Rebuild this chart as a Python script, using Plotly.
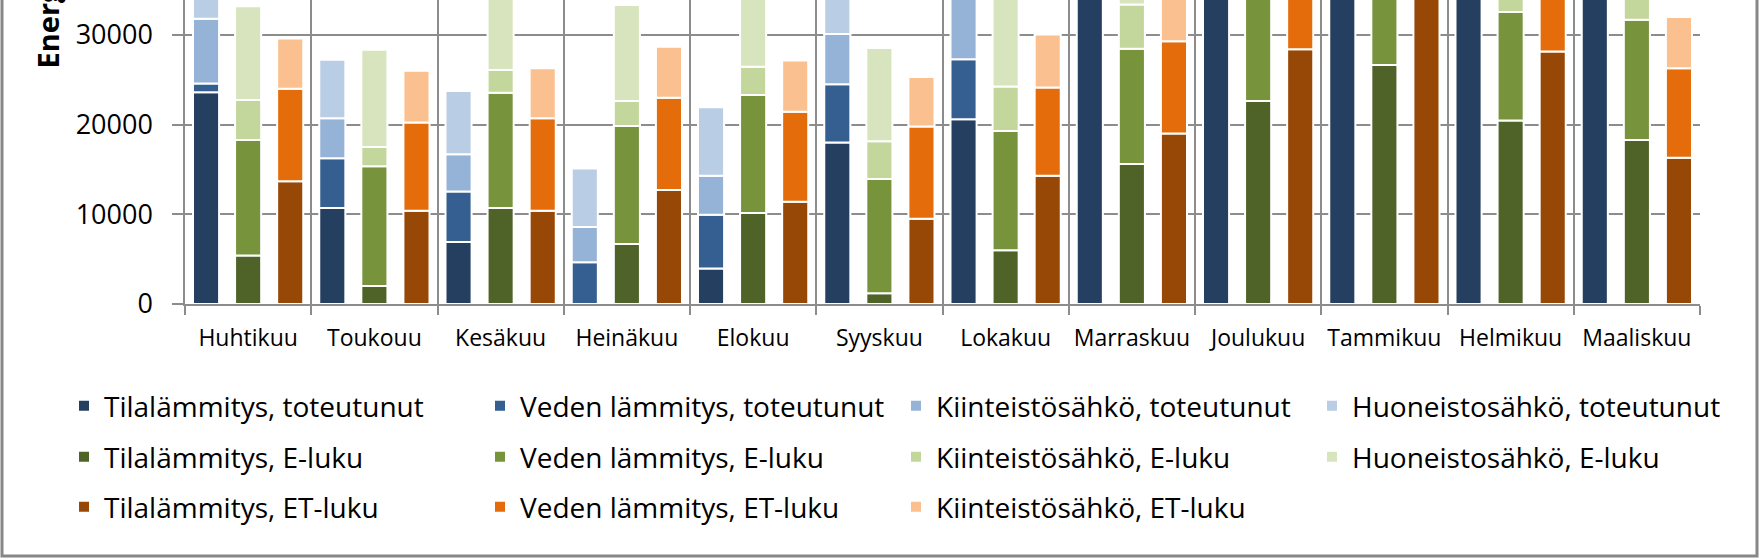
import numpy as np
import plotly.graph_objects as go

months = ["Huhtikuu", "Toukouu", "Kesäkuu", "Heinäkuu", "Elokuu", "Syyskuu",
          "Lokakuu", "Marraskuu", "Joulukuu", "Tammikuu", "Helmikuu", "Maaliskuu"]

# toteutunut (realised)
tila_tot = [23600, 10700, 6900, 0, 3950, 18000, 20600, 42000, 50000, 54000, 48000, 43000]
veden_tot = [1000, 5550, 5650, 4650, 6000, 6500, 6700, 6200, 6200, 6200, 6200, 6200]
kiint_tot = [7200, 4450, 4150, 3950, 4350, 5600, 7300, 7000, 7000, 7000, 7000, 7000]
huon_tot = [7000, 6550, 7050, 6500, 7650, 7000, 7200, 7200, 7200, 7200, 7200, 7200]

# E-luku
tila_e = [5400, 2000, 10700, 6700, 10150, 1200, 6000, 15600, 22650, 26650, 20450, 18300]
veden_e = [12900, 13350, 12850, 13150, 13150, 12750, 13300, 12850, 13000, 13000, 12100, 13400]
kiint_e = [4450, 2150, 2550, 2800, 3150, 4200, 4950, 4950, 5000, 5000, 5000, 5000]
huon_e = [10450, 10850, 10500, 10700, 10500, 10400, 10500, 10500, 10500, 10500, 10500, 10500]

# ET-luku
tila_et = [13700, 10400, 10400, 12700, 11400, 9500, 14300, 19000, 28400, 36000, 28150, 16300]
veden_et = [10300, 9850, 10300, 10300, 10050, 10300, 9850, 10300, 10300, 10300, 10300, 10000]
kiint_et = [5600, 5750, 5600, 5700, 5700, 5500, 5900, 5600, 5600, 5600, 5600, 5700]

groups = [
    ("tot", "legend", [
        ("Tilalämmitys, toteutunut", tila_tot, "#243F60"),
        ("Veden lämmitys, toteutunut", veden_tot, "#365F91"),
        ("Kiinteistösähkö, toteutunut", kiint_tot, "#95B3D7"),
        ("Huoneistosähkö, toteutunut", huon_tot, "#B9CDE5"),
    ]),
    ("e", "legend2", [
        ("Tilalämmitys, E-luku", tila_e, "#4F6228"),
        ("Veden lämmitys, E-luku", veden_e, "#77933C"),
        ("Kiinteistösähkö, E-luku", kiint_e, "#C3D69B"),
        ("Huoneistosähkö, E-luku", huon_e, "#D7E4BD"),
    ]),
    ("et", "legend3", [
        ("Tilalämmitys, ET-luku", tila_et, "#974806"),
        ("Veden lämmitys, ET-luku", veden_et, "#E46C0A"),
        ("Kiinteistösähkö, ET-luku", kiint_et, "#FAC090"),
    ]),
]

FONT = "Open Sans"
fig = go.Figure()
for gid, leg, series in groups:
    base = np.zeros(len(months))
    for name, vals, color in series:
        v = np.array(vals, dtype=float)
        fig.add_trace(go.Bar(
            x=months, y=v, base=base.copy(), name=name,
            offsetgroup=gid, legend=leg,
            marker=dict(color=color, line=dict(color="white", width=2)),
        ))
        base = base + v

W, H = 1764, 560
ML, MR, MT, MB = 185, 64, 0, 256
PW = W - ML - MR
PH = H - MT - MB

def px_x(p):
    return (p - ML) / PW

def px_y(p):
    return (MT + PH - p) / PH

legend_common = dict(
    orientation="h", xanchor="left", yanchor="middle", x=px_x(64),
    entrywidth=371, entrywidthmode="pixels", traceorder="normal",
    font=dict(family=FONT, size=28, color="black"), bgcolor="rgba(0,0,0,0)",
)

grid_col = "#8C8C8C"
fig.update_layout(
    width=W, height=H,
    margin=dict(l=ML, r=MR, t=MT, b=MB, autoexpand=False),
    paper_bgcolor="white", plot_bgcolor="white",
    barmode="group", bargap=0.0, bargroupgap=0.38,
    showlegend=True,
    legend=dict(y=px_y(406), **legend_common),
    legend2=dict(y=px_y(457), **legend_common),
    legend3=dict(y=px_y(507), **legend_common),
    xaxis=dict(
        type="category", tickson="boundaries", ticks="outside", ticklen=9,
        tickcolor=grid_col, tickwidth=1.5, tickangle=0,
        showgrid=True, gridcolor=grid_col, gridwidth=1.5,
        showline=True, linecolor=grid_col, linewidth=1.5,
        tickfont=dict(family=FONT, size=23, color="black"),
        ticklabelstandoff=13,
    ),
    yaxis=dict(
        range=[0, 33900], tickvals=[0, 10000, 20000, 30000], tickformat="d",
        ticks="outside", ticklen=11, tickcolor=grid_col, tickwidth=1.5,
        showgrid=True, gridcolor=grid_col, gridwidth=1.5,
        showline=True, linecolor=grid_col, linewidth=1.5, zeroline=False,
        tickfont=dict(family=FONT, size=27, color="black"),
        ticklabelstandoff=14,
    ),
    font=dict(family=FONT, color="black"),
)

# y-axis title (top part is outside the visible image, as in the reference)
fig.add_annotation(
    text="Energiankulutus (kWh)", textangle=-90, showarrow=False,
    xref="paper", yref="paper", x=px_x(47), y=px_y(71),
    xanchor="center", yanchor="bottom",
    font=dict(family=FONT, size=29, color="black", weight="bold"),
)

# chart frame
fig.add_shape(type="rect", xref="paper", yref="paper",
              x0=px_x(2), x1=px_x(1757), y0=px_y(556), y1=3,
              line=dict(color="#878787", width=3), fillcolor="rgba(0,0,0,0)",
              layer="above")

fig.write_html("out.html")
